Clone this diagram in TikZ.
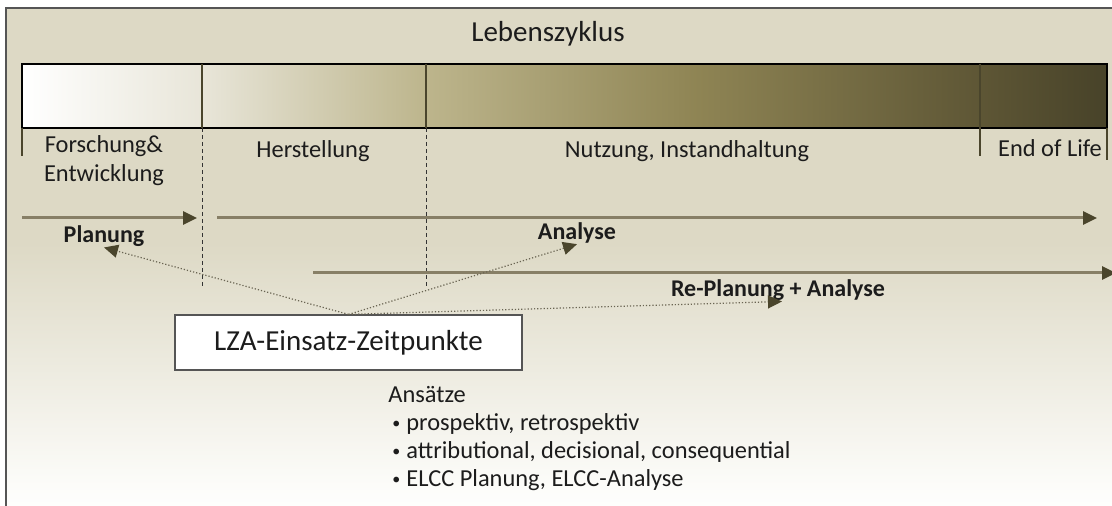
\documentclass[tikz,border=0pt]{standalone}
\usepackage{fontspec}
\setmainfont{Carlito}
\usetikzlibrary{arrows.meta}

\definecolor{bgbeige}{RGB}{221,217,197}
\definecolor{linecol}{RGB}{135,127,102}
\definecolor{headcol}{RGB}{74,69,44}
\definecolor{dotcol}{RGB}{105,100,82}
\definecolor{textcol}{RGB}{28,28,28}
\definecolor{framecol}{RGB}{85,85,85}

\pgfdeclarehorizontalshading{barshade}{100bp}{rgb(0bp)=(1,1,1); rgb(25bp)=(1,1,1);
  rgb(33.3bp)=(0.91,0.90,0.85); rgb(43.6bp)=(0.74,0.71,0.55); rgb(56bp)=(0.56,0.52,0.33);
  rgb(69bp)=(0.37,0.34,0.21); rgb(75bp)=(0.28,0.26,0.16); rgb(100bp)=(0.28,0.26,0.16)}
\pgfdeclareverticalshading{bgshade}{100bp}{rgb(0bp)=(1,1,1); rgb(25bp)=(1,1,1);
  rgb(28bp)=(0.99,0.99,0.98); rgb(52bp)=(0.867,0.851,0.773); rgb(100bp)=(0.867,0.851,0.773)}

\newcommand{\ansbullet}{\hspace*{2pt}\makebox[7pt][l]{\raisebox{1.3pt}{\fontsize{8}{8}\selectfont\textbullet}}}

\begin{document}
\begin{tikzpicture}[x=0.5pt,y=-0.5pt]

\tikzset{phase/.style = {anchor=base, text=textcol, inner sep=0pt, font=\fontsize{12.2}{14.5}\selectfont}}
\tikzset{stage/.style = {anchor=base, text=textcol, inner sep=0pt, font=\bfseries\fontsize{12}{14}\selectfont}}
\tikzset{zeitbox/.style = {draw=framecol, fill=white, line width=0.6pt, minimum width=173.5pt, minimum height=27.5pt, inner sep=0pt, text=textcol, font=\fontsize{14.5}{17}\selectfont}}
% background
\clip (0,0) rectangle (1112,506);
\fill[white] (0,0) rectangle (1112,506);
\shade[shading=bgshade] (5.5,8) rectangle (1120,520);
\draw[framecol, line width=1pt] (5.5,520) |- (1120,8);
% bar
\shade[shading=barshade] (22,64) rectangle (1107,128);
\draw[black, line width=1pt] (22,64) rectangle (1107,128);
\draw[headcol, line width=0.6pt] (202,64) -- (202,128) (426,64) -- (426,128) (980,64) -- (980,128);
\draw[headcol, line width=0.6pt] (22,128) -- (22,156) (980,128) -- (980,156) (1107,128) -- (1107,160);
\draw[black!80, line width=0.5pt, dash pattern=on 2pt off 1.5pt] (202,128) -- (202,288) (426,128) -- (426,288);
% texts
\node[phase, font=\fontsize{14.5}{17}\selectfont] (zyklus) at (548,42) {Lebenszyklus};
\node[phase, align=center] (forschung) at (104,182) {Forschung\&\\Entwicklung};
\node[phase] (herst) at (313,158) {Herstellung};
\node[phase] (nutzung) at (687,158) {Nutzung, Instandhaltung};
\node[phase] (eol) at (1050,157) {End of Life};
\node[stage] (planung) at (104,243) {Planung};
\node[stage] (analyse) at (577,240) {Analyse};
\node[stage] (replanung) at (778,297) {Re-Planung + Analyse};
\node[zeitbox] (zeit) at (348.5,342.5) {LZA-Einsatz-Zeitpunkte};
\node[phase, anchor=base west, align=left, font=\fontsize{12.2}{14}\selectfont] (ansaetze) at (388,487)
  {Ansätze\\
   \ansbullet prospektiv, retrospektiv\\
   \ansbullet attributional, decisional, consequential\\
   \ansbullet ELCC Planung, ELCC-Analyse};
% arrow ends
\coordinate (p1) at (22,218);
\coordinate (p2) at (197,218);
\coordinate (a1) at (217,218);
\coordinate (a2) at (1097,218);
\coordinate (r1) at (313,273);
\coordinate (r2) at (1116,273);
%edges
\tikzset{edge/.style = {-{Triangle[length=7pt,width=6.5pt,color=headcol]}, linecol, line width=1.5pt}}
\draw[edge] (p1) -- (p2);
\draw[edge] (a1) -- (a2);
\draw[edge] (r1) -- (r2);
\tikzset{edge/.style = {-{Triangle[length=7pt,width=6.5pt,color=headcol]}, dotcol, line width=0.6pt, densely dotted}}
\draw[edge] (zeit.north) -- (planung.south);
\draw[edge] (zeit.north) -- (analyse.south);
\draw[edge] (zeit.north) -- ([xshift=2pt]replanung.south);

\end{tikzpicture}
\end{document}
